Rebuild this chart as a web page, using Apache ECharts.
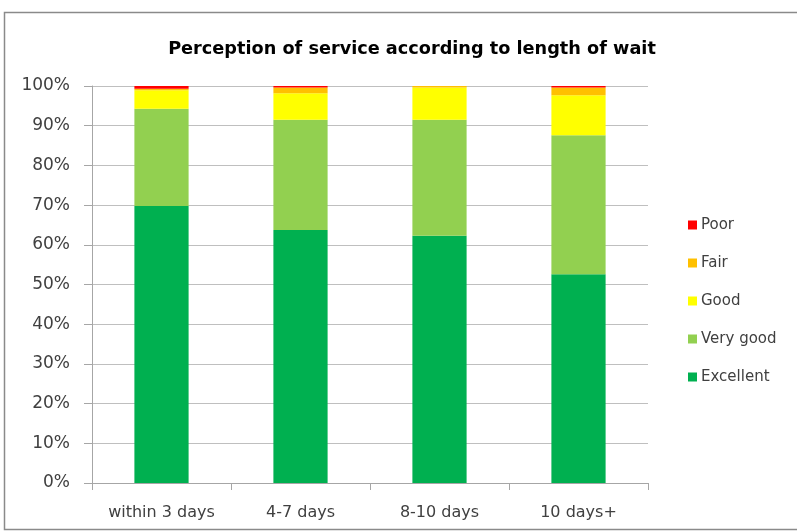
<!DOCTYPE html>
<html>
<head>
<meta charset="utf-8">
<script src="https://cdn.jsdelivr.net/npm/echarts@6/dist/echarts.min.js"></script>
<style>
html,body{margin:0;padding:0;background:#fff;}
#c{width:797px;height:532px;}
</style>
</head>
<body>
<div id="c"></div>
<script>
var categories = ['within 3 days', '4-7 days', '8-10 days', '10 days+'];
var excellent = [69.8, 63.7, 62.3, 52.6];
var veryGood  = [24.5, 27.8, 29.2, 35.0];
var good      = [4.6, 6.7, 8.1, 10.1];
var fair      = [0.4, 1.4, 0.4, 1.9];
var poor      = [0.7, 0.4, 0.0, 0.4];
var seriesNames = ['Excellent', 'Very good', 'Good', 'Fair', 'Poor'];
var seriesColors = ['#00B050', '#92D050', '#FFFF00', '#FFC000', '#FF0000'];
var seriesValues = [excellent, veryGood, good, fair, poor];
var legendOrder = ['Poor', 'Fair', 'Good', 'Very good', 'Excellent'];

var FONT = 'DejaVu Sans';
var chart = echarts.init(document.getElementById('c'), null, {renderer: 'canvas'});
var series = seriesNames.map(function (n, i) {
  return {
    name: n, type: 'bar', stack: 'total', barWidth: '39%',
    itemStyle: {color: seriesColors[i]},
    data: seriesValues[i]
  };
});
chart.setOption({
  animation: false,
  backgroundColor: '#fff',
  graphic: [{
    type: 'rect', left: 2, top: 10, silent: true,
    shape: {width: 830, height: 517},
    style: {fill: 'none', stroke: '#8a8a8a', lineWidth: 1.5}
  }],
  title: {
    text: 'Perception of service according to length of wait',
    left: 407, top: 35, textAlign: 'center',
    textStyle: {fontFamily: FONT, fontWeight: 'bold', fontSize: 17.7, color: '#000'}
  },
  legend: {
    orient: 'vertical', left: 683, top: 211,
    data: legendOrder, itemWidth: 9, itemHeight: 9, itemGap: 20,
    icon: 'rect',
    textStyle: {fontFamily: FONT, fontSize: 15, color: '#404040', lineHeight: 18, padding: [0,0,0,-1]}
  },
  grid: {left: 92, right: 149, top: 86, bottom: 49, containLabel: false},
  xAxis: {
    type: 'category', data: categories,
    axisLine: {lineStyle: {color: '#a6a6a6', width: 1}},
    axisTick: {show: true, length: 7, lineStyle: {color: '#a6a6a6'}},
    axisLabel: {fontFamily: FONT, fontSize: 16, color: '#404040', margin: 22}
  },
  yAxis: {
    type: 'value', min: 0, max: 100, interval: 10,
    axisLine: {show: true, lineStyle: {color: '#a6a6a6'}},
    axisTick: {show: true, length: 8, lineStyle: {color: '#a6a6a6'}},
    splitLine: {lineStyle: {color: '#bfbfbf', width: 1}},
    axisLabel: {fontFamily: FONT, fontSize: 17, color: '#404040', margin: 22,
      formatter: function (v) { return v + '%'; }}
  },
  series: series
});
</script>
</body>
</html>
